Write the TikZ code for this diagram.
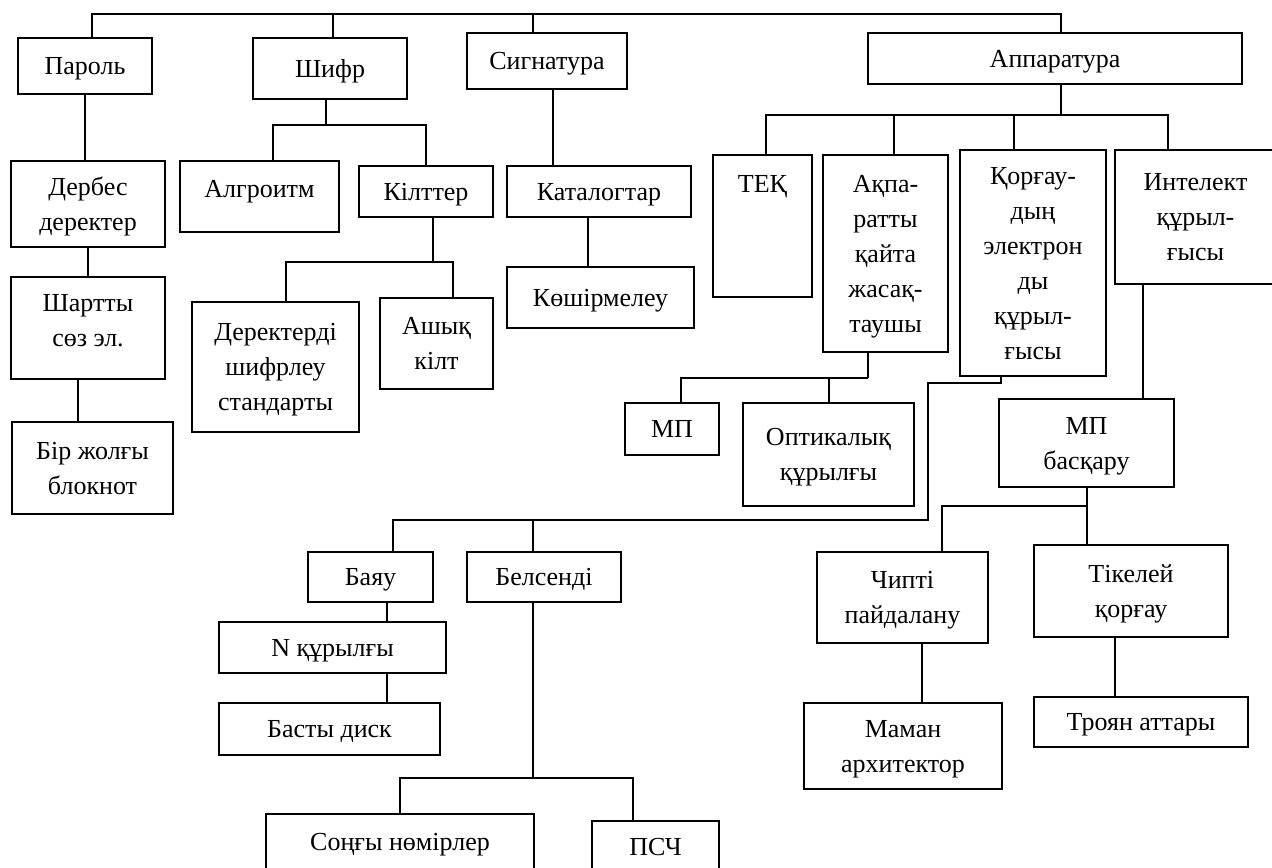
\documentclass[tikz,border=0pt]{standalone}
\usepackage{fontspec}
\setmainfont{Liberation Serif}

\begin{document}
\begin{tikzpicture}[
    x=0.5pt, y=-0.5pt,
    box/.style={draw, line width=1pt, align=center, inner sep=0pt, text depth=0pt, font=\fontsize{13pt}{17.5pt}\selectfont},
    sz/.style 2 args={minimum width=#1*0.5pt, minimum height=#2*0.5pt},
    conn/.style={line width=1pt}
]
\useasboundingbox (0,0) rectangle (1272,867);
\clip (0,0) rectangle (1272,867);

% top level
\node[box, sz={134}{56}] (parol) at (85,66) {Пароль};
\node[box, sz={154}{61}] (shifr) at (330,68.5) {Шифр};
\node[box, sz={160}{56}] (signat) at (547,61) {Сигнатура};
\node[box, sz={374}{51}] (apparat) at (1055,58.5) {Аппаратура};

% password branch
\node[box, sz={154}{86}] (derbes) at (88,204) {Дербес\\деректер};
\node[box, sz={154}{102}, text depth=8pt] (shartty) at (88,328) {Шартты\\сөз эл.};
\node[box, sz={161}{92}] (bir) at (92.5,468) {Бір жолғы\\блокнот};

% cipher branch
\node[box, sz={159}{71}, text depth=7.5pt] (algoritm) at (259.5,196.5) {Алгроитм};
\node[box, sz={134}{51}] (kiltter) at (426,191.5) {Кілттер};
\node[box, sz={167}{130}] (derekter) at (275.5,367) {Деректерді\\шифрлеу\\стандарты};
\node[box, sz={113}{91}] (ashyk) at (436.5,343.5) {Ашық\\кілт};

% signature branch
\node[box, sz={184}{51}] (katalog) at (599,191.5) {Каталогтар};
\node[box, sz={187}{61}] (koshirme) at (600.5,297.5) {Көшірмелеу};

% hardware branch
\node[box, sz={99}{142}, text depth=42.5pt] (tek) at (762.5,226) {ТЕҚ};
\node[box, sz={125}{197}] (akparat) at (885.5,253.5) {Ақпа-\\ратты\\қайта\\жасақ-\\таушы};
\node[box, sz={146}{226}] (korgau) at (1033,263) {Қорғау-\\дың\\электрон\\ды\\құрыл-\\ғысы};
\node[box, sz={161}{134}] (intelekt) at (1195.5,217) {Интелект\\құрыл-\\ғысы};
\node[box, sz={94}{52}] (mpone) at (672,429) {МП};
\node[box, sz={171}{103}] (optik) at (828.5,454.5) {Оптикалық\\құрылғы};
\node[box, sz={175}{88}] (mpbask) at (1086.5,443) {МП\\басқару};

% passive / active
\node[box, sz={125}{50}] (bayau) at (370.5,577) {Баяу};
\node[box, sz={154}{50}] (belsendi) at (544,577) {Белсенді};
\node[box, sz={227}{51}] (nkur) at (332.5,647.5) {N құрылғы};
\node[box, sz={221}{52}] (basty) at (329.5,729) {Басты диск};
\node[box, sz={268}{56}] (songy) at (400,842) {Соңғы нөмірлер};
\node[box, sz={127}{51}] (psch) at (655.5,846.5) {ПСЧ};

% control branch
\node[box, sz={171}{91}] (chipti) at (902.5,597.5) {Чипті\\пайдалану};
\node[box, sz={194}{92}] (tikelei) at (1131,591) {Тікелей\\қорғау};
\node[box, sz={198}{86}] (maman) at (903,746) {Маман\\архитектор};
\node[box, sz={214}{50}] (troyan) at (1141,722) {Троян аттары};

% junctions
\coordinate (t1) at (1061,14);
\coordinate (s1) at (326,125);
\coordinate (k1) at (433,262);
\coordinate (ab) at (1061,115);
\coordinate (p1) at (868,378);
\coordinate (q1) at (928,383);
\coordinate (q2) at (533,520);
\coordinate (e1) at (533,778);
\coordinate (m1) at (1087,506);
\coordinate (c1) at ([xshift=3pt]signat.south);
\coordinate (c2) at ([xshift=-5.5pt]katalog.south);
\coordinate (sh1) at ([xshift=-5pt]shartty.south);
\coordinate (b1) at ([xshift=8.25pt]bayau.south);
\coordinate (i1) at ([xshift=-26.25pt]intelekt.south);
\coordinate (ch1) at ([xshift=9.75pt]chipti.south);
\coordinate (tk1) at ([xshift=-8pt]tikelei.south);

% top bus
\draw[conn] ([xshift=3.5pt]parol.north) |- (t1) -- ([xshift=3pt]apparat.north);
\draw[conn] ([xshift=1.5pt]shifr.north) |- (t1);
\draw[conn] ([xshift=-7pt]signat.north) |- (t1);

% password
\draw[conn] (parol.south) -- (parol.south |- derbes.north);
\draw[conn] (derbes) -- (shartty);
\draw[conn] (sh1) -- (sh1 |- bir.north);

% cipher
\draw[conn] ([xshift=-2pt]shifr.south) -- (s1);
\draw[conn] ([xshift=6.75pt]algoritm.north) |- (s1) -| (kiltter.north);
\draw[conn] ([xshift=3.5pt]kiltter.south) -- (k1);
\draw[conn] ([xshift=5.25pt]derekter.north) |- (k1) -| ([xshift=8.25pt]ashyk.north);

% signature
\draw[conn] (c1) -- (c1 |- katalog.north);
\draw[conn] (c2) -- (c2 |- koshirme.north);

% hardware
\draw[conn] ([xshift=3pt]apparat.south) -- (ab);
\draw[conn] ([xshift=1.75pt]tek.north) |- (ab) -| ([xshift=-13.75pt]intelekt.north);
\draw[conn] ([xshift=4.25pt]akparat.north) |- (ab);
\draw[conn] ([xshift=-9.5pt]korgau.north) |- (ab);
\draw[conn] ([xshift=-8.75pt]akparat.south) -- (p1);
\draw[conn] ([xshift=4.5pt]mpone.north) |- (p1);
\draw[conn] (optik.north) |- (p1);
\draw[conn] ([xshift=-16pt]korgau.south) |- (q1) |- (q2) -| ([xshift=11.25pt]bayau.north);
\draw[conn] (q2) -- (q2 |- belsendi.north);
\draw[conn] (b1) -- (b1 |- nkur.north);
\draw[conn] (b1 |- nkur.south) -- (b1 |- basty.north);
\draw[conn] ([xshift=-5.5pt]belsendi.south) -- (e1);
\draw[conn] (songy.north) |- (e1) -| ([xshift=-11.25pt]psch.north);
\draw[conn] (i1) -- (i1 |- mpbask.north);
\draw[conn] (mpbask.south) -- (mpbask.south |- tikelei.north);
\draw[conn] ([xshift=19.75pt]chipti.north) |- (m1);
\draw[conn] (ch1) -- (ch1 |- maman.north);
\draw[conn] (tk1) -- (tk1 |- troyan.north);
\end{tikzpicture}
\end{document}
